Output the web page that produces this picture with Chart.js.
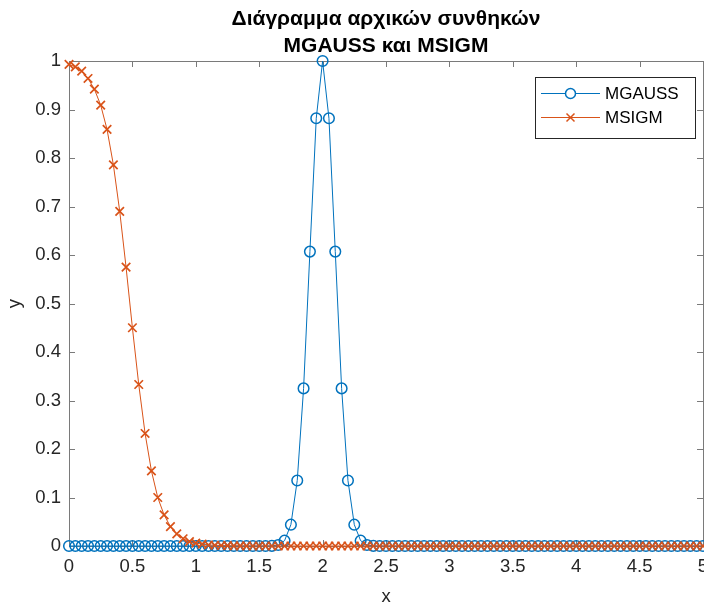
<!DOCTYPE html>
<html lang="el">
<head>
<meta charset="utf-8">
<title>MGAUSS και MSIGM</title>
<script src="https://cdn.jsdelivr.net/npm/chart.js"></script>
<style>
    html, body { margin: 0; padding: 0; background: #fff; overflow: hidden; }
</style>
</head>
<body>
<canvas id="myChart" width="720" height="605"></canvas>
<script>
    // sample grid x = 0 : 0.05 : 5
    const xs = [
        0, 0.05, 0.1, 0.15, 0.2, 0.25, 0.3, 0.35, 0.4, 0.45,
        0.5, 0.55, 0.6, 0.65, 0.7, 0.75, 0.8, 0.85, 0.9, 0.95,
        1, 1.05, 1.1, 1.15, 1.2, 1.25, 1.3, 1.35, 1.4, 1.45,
        1.5, 1.55, 1.6, 1.65, 1.7, 1.75, 1.8, 1.85, 1.9, 1.95,
        2, 2.05, 2.1, 2.15, 2.2, 2.25, 2.3, 2.35, 2.4, 2.45,
        2.5, 2.55, 2.6, 2.65, 2.7, 2.75, 2.8, 2.85, 2.9, 2.95,
        3, 3.05, 3.1, 3.15, 3.2, 3.25, 3.3, 3.35, 3.4, 3.45,
        3.5, 3.55, 3.6, 3.65, 3.7, 3.75, 3.8, 3.85, 3.9, 3.95,
        4, 4.05, 4.1, 4.15, 4.2, 4.25, 4.3, 4.35, 4.4, 4.45,
        4.5, 4.55, 4.6, 4.65, 4.7, 4.75, 4.8, 4.85, 4.9, 4.95,
        5
    ];

    const mgauss = [
        0, 0, 0, 0, 0, 0, 0, 0, 0, 0,
        0, 0, 0, 0, 0, 0, 0, 0, 0, 0,
        0, 0, 0, 0, 0, 0, 0, 0, 0, 0,
        0, 0, 0.0003, 0.002, 0.011, 0.044, 0.135, 0.325, 0.607, 0.882,
        1, 0.882, 0.607, 0.325, 0.135, 0.044, 0.011, 0.002, 0.0003, 0,
        0, 0, 0, 0, 0, 0, 0, 0, 0, 0,
        0, 0, 0, 0, 0, 0, 0, 0, 0, 0,
        0, 0, 0, 0, 0, 0, 0, 0, 0, 0,
        0, 0, 0, 0, 0, 0, 0, 0, 0, 0,
        0, 0, 0, 0, 0, 0, 0, 0, 0, 0,
        0
    ];

    const msigm = [
        0.993, 0.988, 0.979, 0.964, 0.942, 0.909, 0.859, 0.786, 0.690, 0.575,
        0.450, 0.333, 0.232, 0.155, 0.100, 0.064, 0.040, 0.025, 0.015, 0.009,
        0.006, 0.004, 0.002, 0.0015, 0.001, 0.0006, 0.0004, 0.0002, 0.0001, 0,
        0, 0, 0, 0, 0, 0, 0, 0, 0, 0,
        0, 0, 0, 0, 0, 0, 0, 0, 0, 0,
        0, 0, 0, 0, 0, 0, 0, 0, 0, 0,
        0, 0, 0, 0, 0, 0, 0, 0, 0, 0,
        0, 0, 0, 0, 0, 0, 0, 0, 0, 0,
        0, 0, 0, 0, 0, 0, 0, 0, 0, 0,
        0, 0, 0, 0, 0, 0, 0, 0, 0, 0,
        0
    ];

    const xTicks = [0, 0.5, 1, 1.5, 2, 2.5, 3, 3.5, 4, 4.5, 5];
    const yTicks = [0, 0.1, 0.2, 0.3, 0.4, 0.5, 0.6, 0.7, 0.8, 0.9, 1];

    const blue = '#0072BD';
    const orange = '#D95319';
    const axisColor = '#262626';
    const fontFamily = '"Liberation Sans", Arial, Helvetica, sans-serif';

    // MATLAB-like box with inward ticks on all four sides
    const boxPlugin = {
        id: 'box',
        beforeDatasetsDraw(chart) {
            const {ctx, chartArea: a, scales} = chart;
            const len = 6;
            ctx.save();
            ctx.strokeStyle = '#7a7a7a';
            ctx.lineWidth = 1;
            ctx.beginPath();
            xTicks.forEach(v => {
                const px = Math.round(scales.x.getPixelForValue(v)) + 0.5;
                ctx.moveTo(px, a.top); ctx.lineTo(px, a.top + len);
                ctx.moveTo(px, a.bottom); ctx.lineTo(px, a.bottom - len);
            });
            yTicks.forEach(v => {
                const py = Math.round(scales.y.getPixelForValue(v)) + 0.5;
                ctx.moveTo(a.left, py); ctx.lineTo(a.left + len, py);
                ctx.moveTo(a.right, py); ctx.lineTo(a.right - len, py);
            });
            ctx.stroke();
            ctx.strokeRect(Math.round(a.left) + 0.5, Math.round(a.top) + 0.5,
                Math.round(a.right - a.left), Math.round(a.bottom - a.top));
            ctx.restore();
        }
    };

    // legend with line + marker samples, top right of the axes
    const legendPlugin = {
        id: 'matLegend',
        afterDraw(chart) {
            const ctx = chart.ctx;
            const bx = 535.5, by = 77.5, bw = 160, bh = 61;
            const rows = [
                {label: 'MGAUSS', color: blue, marker: 'circle', y: 93},
                {label: 'MSIGM', color: orange, marker: 'cross', y: 117}
            ];
            ctx.save();
            ctx.fillStyle = '#fff';
            ctx.fillRect(bx, by, bw, bh);
            ctx.strokeStyle = '#262626';
            ctx.lineWidth = 1;
            ctx.strokeRect(bx, by, bw, bh);
            rows.forEach(r => {
                ctx.strokeStyle = r.color;
                ctx.lineWidth = 1;
                ctx.beginPath();
                ctx.moveTo(541, r.y + 0.5);
                ctx.lineTo(600, r.y + 0.5);
                ctx.stroke();
                ctx.lineWidth = 1.5;
                ctx.beginPath();
                if (r.marker === 'circle') {
                    ctx.fillStyle = '#fff';
                    ctx.arc(570.5, r.y + 0.5, 5, 0, Math.PI * 2);
                    ctx.fill();
                } else {
                    ctx.moveTo(566.5, r.y - 3.5); ctx.lineTo(574.5, r.y + 4.5);
                    ctx.moveTo(574.5, r.y - 3.5); ctx.lineTo(566.5, r.y + 4.5);
                }
                ctx.stroke();
                ctx.fillStyle = '#000';
                ctx.font = '17px ' + fontFamily;
                ctx.textAlign = 'left';
                ctx.textBaseline = 'middle';
                ctx.fillText(r.label, 605, r.y + 1);
            });
            ctx.restore();
        }
    };

    const points = ys => xs.map((x, i) => ({x: x, y: ys[i]}));

    const config = {
        type: 'line',
        data: {
            datasets: [{
                label: 'MGAUSS',
                data: points(mgauss),
                borderColor: blue,
                borderWidth: 1,
                pointStyle: 'circle',
                pointRadius: 5.3,
                pointBorderWidth: 1.5,
                pointBorderColor: blue,
                pointBackgroundColor: 'rgba(0,0,0,0)',
                tension: 0,
                clip: false,
                order: 1
            }, {
                label: 'MSIGM',
                data: points(msigm),
                borderColor: orange,
                borderWidth: 1,
                pointStyle: 'crossRot',
                pointRadius: 6,
                pointBorderWidth: 1.7,
                pointBorderColor: orange,
                tension: 0,
                clip: false,
                order: 0
            }]
        },
        options: {
            responsive: false,
            animation: false,
            layout: {padding: {left: 0, right: 17, top: 0, bottom: 0}},
            plugins: {
                legend: {display: false},
                tooltip: {enabled: false},
                title: {
                    display: true,
                    fullSize: false,
                    text: ['Διάγραμμα αρχικών συνθηκών', 'MGAUSS και MSIGM'],
                    color: '#000',
                    font: {family: fontFamily, size: 21, weight: 'bold', lineHeight: 1.286},
                    padding: {top: 6, bottom: 1}
                }
            },
            scales: {
                x: {
                    type: 'linear',
                    min: 0,
                    max: 5,
                    afterBuildTicks: s => { s.ticks = xTicks.map(v => ({value: v})); },
                    afterFit: s => { s.height = 59; },
                    grid: {display: false, drawTicks: false},
                    border: {display: false},
                    ticks: {
                        color: axisColor,
                        padding: 10,
                        maxRotation: 0,
                        autoSkip: false,
                        font: {family: fontFamily, size: 18.5},
                        callback: v => String(v)
                    },
                    title: {
                        display: true,
                        text: 'x',
                        color: axisColor,
                        font: {family: fontFamily, size: 18.5, lineHeight: 0.9},
                        padding: {top: 0, bottom: 0}
                    }
                },
                y: {
                    min: 0,
                    max: 1,
                    afterBuildTicks: s => { s.ticks = yTicks.map(v => ({value: v})); },
                    afterFit: s => { s.width = 69; },
                    grid: {display: false, drawTicks: false},
                    border: {display: false},
                    ticks: {
                        color: axisColor,
                        padding: 8,
                        autoSkip: false,
                        font: {family: fontFamily, size: 18.5},
                        callback: v => String(v)
                    },
                    title: {
                        display: true,
                        text: 'y',
                        color: axisColor,
                        font: {family: fontFamily, size: 18.5},
                        padding: {top: 4, bottom: 0}
                    }
                }
            }
        },
        plugins: [boxPlugin, legendPlugin]
    };

    const myChart = new Chart(document.getElementById('myChart'), config);
</script>
</body>
</html>
